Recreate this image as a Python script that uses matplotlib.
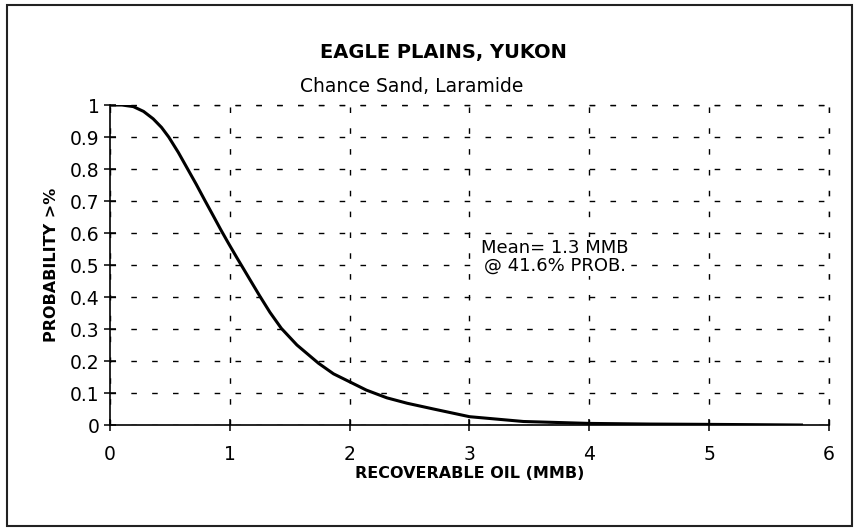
import matplotlib
matplotlib.use("Agg")
import matplotlib.pyplot as plt
import numpy as np
from matplotlib.patches import Rectangle

# values
oil = [0, 0.1, 0.195, 0.28, 0.36, 0.43, 0.49, 0.57, 0.645, 0.72, 0.79, 0.86, 0.925,
       0.99, 1.06, 1.10, 1.17, 1.25, 1.335, 1.43, 1.56, 1.74, 1.865, 2.0, 2.14, 2.31,
       2.48, 2.70, 3.0, 3.45, 4.0, 4.5, 5.0, 5.4, 5.77]
prob = [1.0, 1.0, 0.995, 0.98, 0.957, 0.93, 0.9, 0.852, 0.802, 0.752, 0.703, 0.655, 0.61,
        0.567, 0.522, 0.497, 0.453, 0.403, 0.352, 0.302, 0.25, 0.193, 0.16, 0.135, 0.109,
        0.085, 0.068, 0.05, 0.026, 0.011, 0.005, 0.003, 0.002, 0.001, 0.0]
xticks = [0, 1, 2, 3, 4, 5, 6]
yticks = [0, 0.1, 0.2, 0.3, 0.4, 0.5, 0.6, 0.7, 0.8, 0.9, 1]
ytick_labels = ['0', '0.1', '0.2', '0.3', '0.4', '0.5', '0.6', '0.7', '0.8', '0.9', '1']

plt.rcParams['font.family'] = ['DejaVu Sans']

fig = plt.figure(figsize=(8.58, 5.32), dpi=100)
fig.patches.append(Rectangle((0.008, 0.012), 0.985, 0.978, transform=fig.transFigure,
                             fill=False, edgecolor='#222222', linewidth=1.5))
ax = fig.add_axes([0.1282, 0.2011, 0.838, 0.6015])

ax.plot(oil, prob, color='black', lw=2.2, solid_joinstyle='round')

ax.set_xlim(0, 6)
ax.set_ylim(0, 1)
ax.set_xticks(xticks)
ax.set_yticks(yticks)
ax.set_yticklabels(ytick_labels)
ax.tick_params(direction='inout', length=9, width=1.1, labelsize=13.5, pad=3)
ax.tick_params(axis='x', pad=10)
for s in ['top', 'right']:
    ax.spines[s].set_visible(False)
ax.spines['left'].set_linewidth(1.2)
ax.spines['bottom'].set_linewidth(1.2)

dash = (0, (4, 11))
ax.grid(True, color='black', lw=1.0, linestyle=dash)
# top and right edges drawn as dashed grid lines too
ax.axhline(1, color='black', lw=1.0, linestyle=dash, clip_on=False)
ax.axvline(6, color='black', lw=1.0, linestyle=dash, clip_on=False)

ax.set_xlabel('RECOVERABLE OIL (MMB)', fontsize=11.5, fontweight='bold', labelpad=1)
ax.set_ylabel('PROBABILITY >%', fontsize=11.5, fontweight='bold', labelpad=8)

ax.text(3.71, 0.47, 'Mean= 1.3 MMB\n@ 41.6% PROB.', ha='center', va='bottom',
        fontsize=13, linespacing=1.0,
        bbox=dict(facecolor='white', edgecolor='none', pad=1))

fig.text(0.517, 0.902, 'EAGLE PLAINS, YUKON', ha='center', va='center',
         fontsize=14, fontweight='bold')
fig.text(0.48, 0.838, 'Chance Sand, Laramide', ha='center', va='center', fontsize=13.5)

fig.savefig('out.png', dpi=100)
